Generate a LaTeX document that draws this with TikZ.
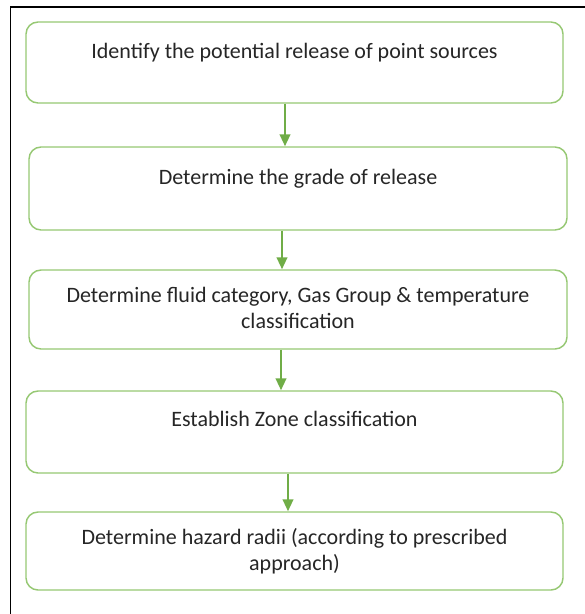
\documentclass[tikz,border=0pt]{standalone}
\usepackage{fontspec}
\setmainfont{Carlito}
\usepackage{xcolor}
\definecolor{boxgreen}{RGB}{150,200,115}
\definecolor{arrowgreen}{RGB}{112,173,71}
\definecolor{inkgray}{RGB}{38,38,38}
\usetikzlibrary{arrows.meta}
\tikzset{>=stealth}
\tikzset{
  stepbox/.style={draw=boxgreen,line width=1.1pt,rounded corners=9pt,inner sep=0pt,fill=white},
  steptext/.style={anchor=north,align=center,inner sep=0pt,text=inkgray,
    font=\fontsize{16.5}{19.5}\selectfont},
  flow/.style={draw=arrowgreen,line width=1.5pt,-{Triangle[width=8pt,length=9pt]}}
}

\begin{document}
\begin{tikzpicture}[x=0.75pt,y=-0.75pt]
    \useasboundingbox (0,0) rectangle (585,614);
    % frame
    \draw[line width=1.2pt] (10.5,614)--(10.5,7)--(585,7);
    % boxes
    \node[stepbox,minimum width=402.75pt,minimum height=60.75pt](s1) at (294.5,62.5){};
    \node[stepbox,minimum width=403.5pt,minimum height=62.25pt](s2) at (298,188.5){};
    \node[stepbox,minimum width=403.5pt,minimum height=59.25pt](s3) at (298,309.5){};
    \node[stepbox,minimum width=402.75pt,minimum height=61.5pt](s4) at (294.5,432){};
    \node[stepbox,minimum width=402.75pt,minimum height=58.5pt](s5) at (294.5,551){};
    % texts
    \node[steptext](t1) at ([yshift=-16pt]s1.north){Identify the potential release of point sources};
    \node[steptext](t2) at ([yshift=-16.8pt]s2.north){Determine the grade of release};
    \node[steptext](t3) at ([yshift=-13pt]s3.north){Determine fluid category, Gas Group \& temperature\\classification};
    \node[steptext](t4) at ([yshift=-15.4pt]s4.north){Establish Zone classification};
    \node[steptext](t5) at ([yshift=-13pt]s5.north){Determine hazard radii (according to prescribed\\approach)};
    % arrows
    \coordinate (c1) at (285,0);
    \coordinate (c2) at (282,0);
    \coordinate (c3) at (281,0);
    \coordinate (c4) at (288,0);
    \draw[flow] (s1.south -| c1) -- (s2.north -| c1);
    \draw[flow] (s2.south -| c2) -- (s3.north -| c2);
    \draw[flow] (s3.south -| c3) -- (s4.north -| c3);
    \draw[flow] (s4.south -| c4) -- (s5.north -| c4);
\end{tikzpicture}
\end{document}
